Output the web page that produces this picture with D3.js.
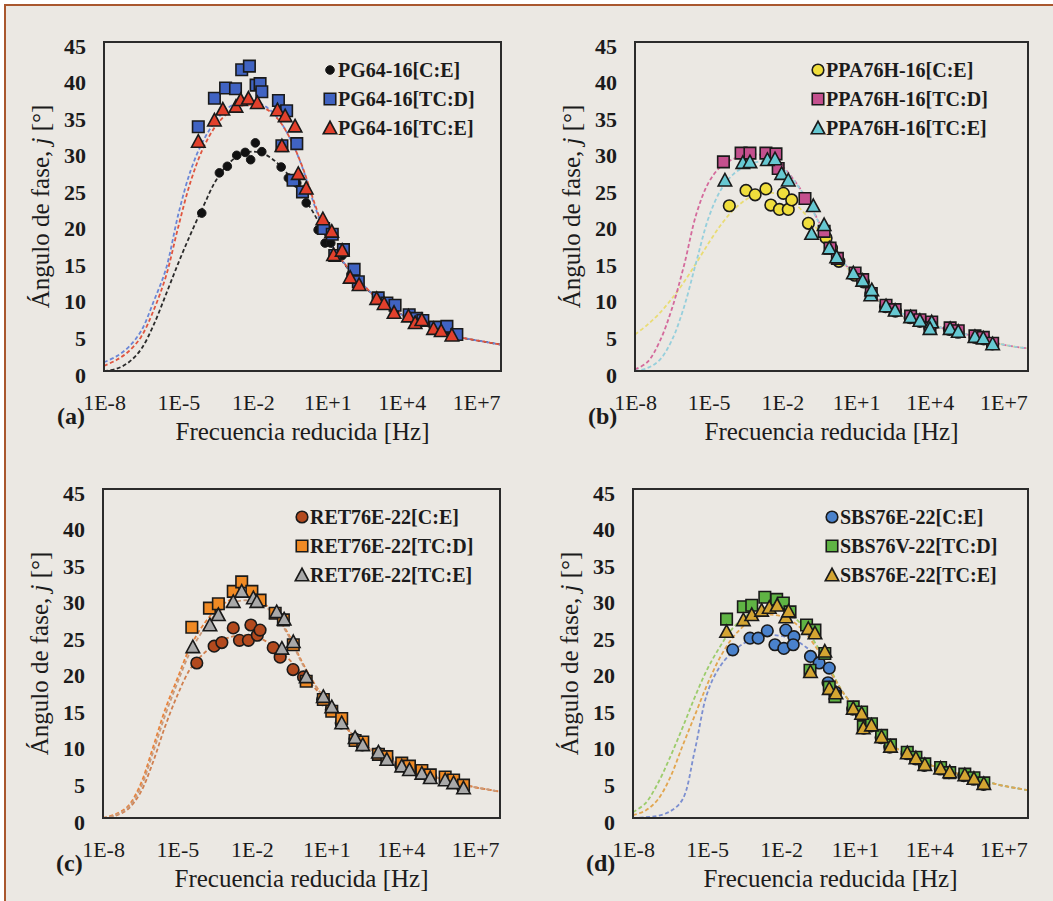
<!DOCTYPE html>
<html><head><meta charset="utf-8">
<script src="https://cdn.jsdelivr.net/npm/d3@7"></script>
<style>
html,body{margin:0;padding:0;background:#fff;}
svg{display:block;}
</style></head><body>
<svg id="c" width="1053" height="901"></svg>
<script>
// ---------- DATA (log10 of reduced frequency [Hz], phase angle [deg]) ----------
const xTickExponents = [-8, -5, -2, 1, 4, 7];
const yTickValues = [0, 5, 10, 15, 20, 25, 30, 35, 40, 45];

// fit-curve grid (log10 frequency)
const fitGrid = [-8,-7.5,-7,-6.5,-6,-5.5,-5,-4.5,-4,-3.5,-3,-2.5,-2,-1.5,-1,-0.5,0,0.5,1,1.5,2,2.5,3,3.5,4,4.5,5,5.5,6,6.5,7,7.5,8];

// Panel (a) PG64-16
const a_CE = [[-4.06,21.6],[-3.35,27.1],[-3.03,28.0],[-2.65,29.5],[-2.31,29.9],[-2.09,28.9],[-1.90,31.2],[-1.64,30.0],[-0.86,27.9],[-0.57,26.4],[-0.23,25.7],[0.15,23.0],[0.63,19.3],[0.91,17.5],[1.14,17.5],[1.25,15.6],[1.6,15.8],[1.95,13.2],[2.3,11.9],[3.0,9.8],[3.3,9.2],[3.7,8.2],[4.28,7.4],[4.55,6.8],[4.8,7.0],[5.3,5.9],[5.6,5.6],[6.0,5.0]];
const a_TCD = [[-4.2,33.4],[-3.55,37.3],[-3.1,38.7],[-2.7,38.6],[-2.45,41.2],[-2.14,41.7],[-1.87,39.1],[-1.71,39.3],[-1.64,38.2],[-0.97,37.0],[-0.64,35.6],[-0.83,30.8],[-0.23,31.1],[-0.38,26.1],[0.0,24.5],[0.85,19.5],[1.2,18.7],[1.3,15.8],[1.65,16.6],[2.08,13.9],[2.25,12.2],[3.05,10.0],[3.4,9.3],[3.73,9.0],[4.3,7.7],[4.6,7.2],[4.85,6.9],[5.35,6.0],[5.82,6.1],[6.22,5.0]];
const a_TCE = [[-4.2,31.4],[-3.55,34.3],[-3.21,35.8],[-2.68,36.2],[-2.49,37.1],[-2.18,37.3],[-1.82,36.7],[-1.01,35.7],[-0.70,34.9],[-0.30,33.5],[-0.83,30.8],[-0.17,27.0],[0.15,25.0],[0.82,20.8],[1.18,19.1],[1.25,15.9],[1.6,16.5],[1.92,12.8],[2.28,11.8],[2.99,9.9],[3.29,9.2],[3.69,8.0],[4.27,7.5],[4.54,6.6],[4.81,7.0],[5.28,5.8],[5.59,5.5],[6.02,4.9]];
const a_fitCE  = [0,0.3,1.2,3.0,6.3,10.5,14.8,18.8,22.5,26.0,28.3,29.6,30.0,29.6,28.4,26.5,24.0,21.3,18.0,15.5,13.3,11.5,10.0,8.8,7.7,6.9,6.2,5.6,4.95,4.5,4.2,3.9,3.6];
const a_fitTCD = [1.2,2.0,3.3,5.5,9.5,14.0,21.5,27.5,31.5,34.2,36.0,36.8,36.9,36.2,34.6,31.8,27.8,22.5,18.3,15.6,13.4,11.6,10.0,8.8,7.7,6.9,6.2,5.6,4.95,4.5,4.2,3.9,3.6];
const a_fitTCE = [0.7,1.5,2.7,4.7,8.3,13.0,19.8,26.0,30.5,33.5,35.3,36.2,36.4,35.9,34.5,31.8,27.9,22.8,18.3,15.6,13.4,11.6,10.0,8.8,7.7,6.9,6.2,5.6,4.95,4.5,4.2,3.9,3.6];

// Panel (b) PPA76H-16
const b_CE = [[-4.16,22.6],[-3.48,24.7],[-3.11,24.1],[-2.67,24.9],[-2.47,22.7],[-2.12,22.1],[-1.96,24.3],[-1.76,22.1],[-1.62,23.4],[-0.94,20.2],[-0.22,18.2],[0.0,16.8],[0.3,15.0],[0.95,13.1],[1.3,12.2],[1.6,10.5],[2.2,8.8],[2.6,8.2],[3.2,7.3],[3.6,6.8],[4.0,6.0],[4.8,5.7],[5.15,5.3],[5.85,4.6],[6.2,4.4],[6.55,3.7]];
const b_TCD = [[-4.40,28.6],[-3.68,29.8],[-3.32,29.8],[-2.67,29.8],[-2.26,29.7],[-2.17,27.7],[-1.08,23.6],[-0.30,19.1],[-0.06,16.8],[0.24,15.4],[0.96,13.4],[1.27,12.5],[1.62,10.6],[2.22,9.0],[2.59,8.4],[3.22,7.5],[3.6,7.0],[4.08,6.7],[4.01,5.9],[4.83,5.9],[5.16,5.5],[5.84,4.8],[6.18,4.6],[6.56,3.8]];
const b_TCE = [[-4.34,26.1],[-3.61,28.5],[-3.32,28.6],[-2.61,28.9],[-2.30,29.0],[-2.03,27.0],[-1.76,26.1],[-0.74,22.6],[-0.30,20.0],[-0.81,18.8],[-0.09,16.8],[0.21,15.6],[0.89,13.4],[1.27,12.4],[1.6,10.4],[1.64,11.1],[2.22,8.9],[2.59,8.3],[3.22,7.4],[3.60,6.9],[4.08,6.7],[4.01,5.8],[4.83,5.8],[5.16,5.4],[5.84,4.7],[6.18,4.5],[6.56,3.7]];
const b_fitCE  = [5.0,6.3,7.9,9.9,12.2,14.8,17.5,20.0,22.0,23.4,24.2,24.4,24.0,22.9,21.2,19.0,16.6,14.6,12.9,11.1,9.4,8.4,7.7,7.0,6.4,5.9,5.4,5.0,4.5,4.0,3.6,3.3,3.1];
const b_fitTCD = [0.2,1.2,4.0,8.5,14.5,21.5,25.8,28.0,29.0,29.5,29.6,29.2,28.0,26.0,23.5,20.3,17.0,14.8,13.0,11.2,9.4,8.4,7.7,7.0,6.4,5.9,5.4,5.0,4.5,4.0,3.6,3.3,3.1];
const b_fitTCE = [0,0.4,1.5,4.2,8.8,15.0,21.0,24.8,26.9,28.0,28.6,28.6,27.7,25.9,23.4,20.2,16.9,14.8,13.0,11.2,9.4,8.4,7.7,7.0,6.4,5.9,5.4,5.0,4.5,4.0,3.6,3.3,3.1];

// Panel (c) RET76E-22
const c_CE = [[-4.22,21.2],[-3.52,23.5],[-3.21,24.0],[-2.75,26.0],[-2.50,24.3],[-2.14,24.3],[-2.04,26.4],[-1.78,25.0],[-1.67,25.7],[-1.14,23.3],[-0.86,22.0],[-0.34,20.3],[0.08,19.3],[0.85,16.2],[1.2,14.8],[1.6,13.0],[2.15,10.8],[2.45,10.0],[3.1,8.8],[3.45,8.1],[4.0,7.2],[4.35,6.7],[4.85,6.2],[5.2,5.6],[5.8,5.3],[6.1,4.9],[6.5,4.2]];
const c_TCD = [[-4.42,26.1],[-3.71,28.7],[-3.35,29.3],[-2.75,31.0],[-2.41,32.3],[-2.0,31.0],[-1.67,29.8],[-1.06,28.0],[-0.73,27.1],[-0.33,23.7],[0.19,18.7],[0.88,16.2],[1.22,14.6],[1.62,13.6],[2.16,10.6],[2.47,10.4],[3.1,8.7],[3.44,8.4],[4.04,7.5],[4.35,7.1],[4.85,6.5],[5.19,5.9],[5.79,5.6],[6.13,5.2],[6.53,4.5]];
const c_TCE = [[-4.38,23.4],[-3.69,26.4],[-3.35,27.8],[-2.75,29.6],[-2.41,31.0],[-1.94,30.1],[-1.80,29.6],[-1.0,28.2],[-0.70,27.2],[-0.33,24.1],[-0.79,23.2],[0.19,19.3],[0.88,16.6],[1.22,15.2],[1.62,13.0],[2.16,11.0],[2.47,10.0],[3.1,9.0],[3.44,8.0],[4.04,7.1],[4.35,6.6],[4.85,6.1],[5.19,5.5],[5.79,5.2],[6.13,4.8],[6.53,4.1]];
const c_fitCE  = [0,0.3,1.2,3.4,7.5,12.5,16.8,20.3,22.3,23.7,24.6,25.0,24.9,24.3,23.2,21.7,19.8,17.9,16.0,13.8,11.6,10.1,9.0,8.1,7.3,6.6,6.0,5.5,5.1,4.6,4.2,3.9,3.6];
const c_fitTCD = [0,0.5,1.6,4.5,9.5,14.8,19.1,23.3,26.2,28.3,29.6,30.3,30.2,29.3,27.6,25.0,21.5,18.5,16.0,13.8,11.6,10.1,9.0,8.1,7.3,6.6,6.0,5.5,5.1,4.6,4.2,3.9,3.6];
const c_fitTCE = [0,0.4,1.4,4.0,8.8,14.0,18.5,22.6,25.5,27.7,29.0,29.7,29.7,29.0,27.4,24.8,21.3,18.4,16.0,13.8,11.6,10.1,9.0,8.1,7.3,6.6,6.0,5.5,5.1,4.6,4.2,3.9,3.6];

// Panel (d) SBS76E-22 / SBS76V-22
const d_CE = [[-3.96,23.0],[-3.26,24.6],[-2.93,24.6],[-2.56,25.6],[-2.25,23.7],[-1.89,23.2],[-1.81,25.7],[-1.48,24.8],[-1.51,23.7],[-0.81,22.1],[-0.46,21.2],[-0.05,20.5],[-0.1,18.5],[0.2,17.2],[0.9,14.9],[1.25,14.2],[1.35,12.3],[1.65,12.6],[2.05,11.0],[2.4,9.7],[3.1,8.8],[3.45,8.1],[3.8,7.2],[4.45,6.7],[4.8,6.2],[5.4,5.8],[5.8,5.3],[6.2,4.6]];
const d_TCD = [[-4.21,27.2],[-3.53,28.9],[-3.19,29.1],[-2.66,30.2],[-2.18,29.9],[-1.91,29.4],[-1.64,28.2],[-0.97,26.4],[-0.63,25.7],[-0.83,20.2],[-0.23,22.5],[-0.05,17.9],[0.18,16.6],[0.92,15.2],[1.26,14.5],[1.33,12.5],[1.66,12.9],[2.07,11.3],[2.43,10.0],[3.11,9.0],[3.46,8.3],[3.82,7.4],[4.46,6.9],[4.83,6.2],[5.44,6.0],[5.81,5.5],[6.21,4.8]];
const d_TCE = [[-4.21,25.5],[-3.53,27.1],[-3.19,27.8],[-2.79,28.4],[-2.48,28.8],[-2.16,29.1],[-1.81,27.5],[-1.7,28.3],[-0.90,25.9],[-0.63,25.3],[-0.23,22.8],[-0.81,20.0],[-0.05,17.7],[0.22,17.1],[0.92,15.0],[1.26,14.3],[1.33,12.3],[1.66,12.7],[2.07,11.1],[2.43,9.8],[3.11,8.9],[3.46,8.2],[3.82,7.3],[4.46,6.8],[4.83,6.3],[5.44,5.9],[5.81,5.4],[6.21,4.7]];
const d_fitCE  = [0,0.1,0.3,0.9,2.5,9.2,17.0,20.6,22.6,23.9,24.6,25.0,24.9,24.4,23.4,21.8,19.8,17.2,15.0,13.1,11.3,9.9,8.9,8.0,7.3,6.7,6.2,5.8,5.2,4.8,4.4,4.1,3.8];
const d_fitTCD = [0.8,2.0,4.7,8.3,12.3,16.5,20.3,23.3,25.8,27.5,28.5,28.8,28.5,27.5,25.8,23.3,20.3,17.2,15.0,13.1,11.3,9.9,8.9,8.0,7.3,6.7,6.2,5.8,5.2,4.8,4.4,4.1,3.8];
const d_fitTCE = [0.4,1.0,2.5,5.5,9.8,14.0,18.2,21.8,24.5,26.3,27.4,27.8,27.6,26.8,25.2,22.9,20.0,17.2,15.0,13.1,11.3,9.9,8.9,8.0,7.3,6.7,6.2,5.8,5.2,4.8,4.4,4.1,3.8];

const seriesNames = {
  a: ['PG64-16[C:E]', 'PG64-16[TC:D]', 'PG64-16[TC:E]'],
  b: ['PPA76H-16[C:E]', 'PPA76H-16[TC:D]', 'PPA76H-16[TC:E]'],
  c: ['RET76E-22[C:E]', 'RET76E-22[TC:D]', 'RET76E-22[TC:E]'],
  d: ['SBS76E-22[C:E]', 'SBS76V-22[TC:D]', 'SBS76E-22[TC:E]']
};

// ---------- LAYOUT / STYLE ----------
const FONT = "Liberation Serif, serif";
const INK = '#1b1b1b';
const panels = [
  {id:'a', box:[104,42,501,371], legendX:330,
   data:[a_CE,a_TCD,a_TCE], fits:[a_fitCE,a_fitTCD,a_fitTCE],
   fill:['#111111','#4063c2','#e2402c'], fitColor:['#2a2a2a','#6a86d6','#e0553f'], small:true},
  {id:'b', box:[635,42,1028,371], legendX:818,
   data:[b_CE,b_TCD,b_TCE], fits:[b_fitCE,b_fitTCD,b_fitTCE],
   fill:['#f0de3c','#c4508e','#66c8d2'], fitColor:['#e9dc74','#d46a9c','#96cfdc']},
  {id:'c', box:[103,489,500,818], legendX:302,
   data:[c_CE,c_TCD,c_TCE], fits:[c_fitCE,c_fitTCD,c_fitTCE],
   fill:['#b34a1e','#f08a24','#a9a9a9'], fitColor:['#d08050','#e8823a','#c89a7c']},
  {id:'d', box:[633,489,1028,818], legendX:832,
   data:[d_CE,d_TCD,d_TCE], fits:[d_fitCE,d_fitTCD,d_fitTCE],
   fill:['#4a82cc','#5fb444','#d4a532'], fitColor:['#7c8fd0','#9ccc6c','#e2a650']}
];

const svg = d3.select('#c');
svg.append('rect').attr('x',5).attr('y',5).attr('width',1070).attr('height',920)
  .attr('fill','#ebe8e3').attr('stroke','#a9572e').attr('stroke-width',2);

function markerPath(kind, s) {
  const h = s / 2;
  if (kind === 1) return `M${-h},${-h}H${h}V${h}H${-h}Z`;
  if (kind === 2) return `M0,${-h-1}L${h+1},${h}L${-h-1},${h}Z`;
  return null;
}

function drawMarker(g, kind, cx, cy, fill, small) {
  if (kind === 0) {
    g.append('circle').attr('cx',cx).attr('cy',cy).attr('r', small ? 4.3 : 5.8)
      .attr('fill',fill).attr('stroke', '#1a1a1a').attr('stroke-width', small ? 1 : 1.6);
  } else {
    g.append('path').attr('d', markerPath(kind, 11.5))
      .attr('transform',`translate(${cx},${cy})`)
      .attr('fill',fill).attr('stroke','#1a1a1a').attr('stroke-width',1.6)
      .attr('stroke-linejoin','miter');
  }
}

panels.forEach(p => {
  const [x0,y0,x1,y1] = p.box;
  const x = d3.scaleLog().domain([1e-8,1e8]).range([x0,x1]);
  const y = d3.scaleLinear().domain([0,45]).range([y1,y0]);
  const g = svg.append('g');

  const clipId = 'clip' + p.id;
  g.append('clipPath').attr('id',clipId).append('rect')
    .attr('x',x0).attr('y',y0).attr('width',x1-x0).attr('height',y1-y0);

  // fit curves
  const line = d3.line()
    .x(d => x(Math.pow(10, d[0])))
    .y(d => y(d[1]))
    .curve(d3.curveCatmullRom.alpha(0.5));
  const cg = g.append('g').attr('clip-path',`url(#${clipId})`);
  p.fits.forEach((vals, i) => {
    const pts = fitGrid.map((lf, k) => [lf, vals[k]]);
    cg.append('path').attr('d', line(pts)).attr('fill','none')
      .attr('stroke', p.fitColor[i]).attr('stroke-width', 1.8)
      .attr('stroke-dasharray', '4,2.5');
  });

  // markers
  const mg = g.append('g');
  p.data.forEach((ser, i) => {
    ser.forEach(d => drawMarker(mg, i, x(Math.pow(10,d[0])), y(d[1]), p.fill[i], p.small && i === 0));
  });

  // frame
  g.append('rect').attr('x',x0).attr('y',y0).attr('width',x1-x0).attr('height',y1-y0)
    .attr('fill','none').attr('stroke','#2b2b2b').attr('stroke-width',2);

  // axes
  const ay = g.append('g').attr('transform',`translate(${x0},0)`)
    .call(d3.axisLeft(y).tickValues(yTickValues).tickSize(0).tickPadding(18));
  ay.select('.domain').remove();
  ay.selectAll('text').attr('font-family',FONT).attr('font-size',22).attr('font-weight','bold')
    .attr('fill',INK).attr('dy','0.5em');

  const fmt = v => { const e = Math.round(Math.log10(v)); return '1E' + (e < 0 ? '-' : '+') + Math.abs(e); };
  const ax = g.append('g').attr('transform',`translate(0,${y1})`)
    .call(d3.axisBottom(x).tickValues(xTickExponents.map(e => Math.pow(10,e))).tickFormat(fmt).tickSize(0).tickPadding(23));
  ax.select('.domain').remove();
  ax.selectAll('text').attr('font-family',FONT).attr('font-size',22).attr('fill',INK);

  // axis titles
  const yt = g.append('text').attr('transform',`translate(${x0-55},${(y0+y1)/2}) rotate(-90)`)
    .attr('text-anchor','middle').attr('font-family',FONT).attr('font-size',25).attr('fill',INK);
  yt.append('tspan').text('Ángulo de fase, ');
  yt.append('tspan').attr('font-style','italic').text('j');
  yt.append('tspan').text(' [°]');

  g.append('text').attr('x',(x0+x1)/2).attr('y',y1+69).attr('text-anchor','middle')
    .attr('font-family',FONT).attr('font-size',25).attr('fill',INK).text('Frecuencia reducida [Hz]');

  g.append('text').attr('x',x0-47).attr('y',y1+53).attr('font-family',FONT).attr('font-size',24)
    .attr('font-weight','bold').attr('fill',INK).text('(' + p.id + ')');

  // legend
  const names = seriesNames[p.id];
  names.forEach((nm, i) => {
    const ly = y0 + 28 + i * 29;
    drawMarker(g, i, p.legendX, ly, p.fill[i], p.small && i === 0);
    g.append('text').attr('x', p.legendX + 8).attr('y', ly).attr('dy','0.35em')
      .attr('font-family',FONT).attr('font-size',20).attr('font-weight','bold').attr('fill',INK).text(nm);
  });
});
</script>
</body></html>
